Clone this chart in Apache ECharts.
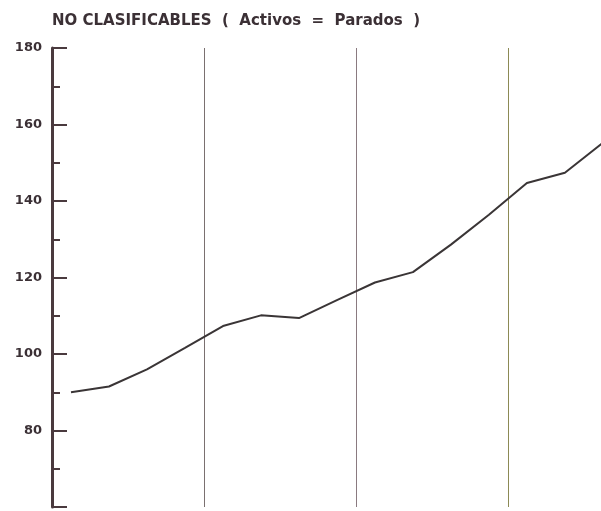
<!DOCTYPE html>
<html>
<head>
<meta charset="utf-8">
<script src="https://cdn.jsdelivr.net/npm/echarts@6/dist/echarts.min.js"></script>
<style>
  html, body { margin: 0; padding: 0; background: #fff; }
  #chart { width: 601px; height: 511px; }
</style>
</head>
<body>
<div id="chart"></div>
<script>
// quarters over four years (the last year is cut off at the right edge)
const years = ['1', '2', '3', '4'];
const quarters = ['I', 'II', 'III', 'IV'];
const categories = years.flatMap(y => quarters.map(q => q + '-' + y));

// index values (one per quarter)
const values = [90.0, 91.5, 96.0, 101.6, 107.3, 110.1, 109.4, 114.1,
                118.7, 121.4, 128.6, 136.4, 144.7, 147.4, 155.2];

const yTicks = [60, 80, 100, 120, 140, 160, 180];

// quarter i is drawn at the middle of its slot; year boundaries every 4 slots
const points = values.map((v, i) => [i + 0.5, v, categories[i]]);

const chart = echarts.init(document.getElementById('chart'), null, { renderer: 'canvas' });

chart.setOption({
  animation: false,
  title: {
    text: 'NO CLASIFICABLES  (  Activos  =  Parados  )',
    left: 47,
    top: 9,
    textStyle: { fontFamily: 'DejaVu Sans', fontWeight: 'bold', fontSize: 15, color: '#3b3035' },
  },
  grid: { left: 52, right: 0, top: 48, bottom: 4, containLabel: false },
  xAxis: {
    type: 'value',
    min: 0,
    max: 14.45,
    interval: 4,
    axisLine: { show: false },
    axisTick: { show: false },
    axisLabel: { show: false },
    splitLine: {
      show: true,
      lineStyle: { color: ['#ffffff', '#7a7070', '#8a7a80', '#8c8a55', '#ffffff'], width: 1 },
    },
  },
  yAxis: {
    type: 'value',
    min: yTicks[0],
    max: yTicks[yTicks.length - 1],
    interval: 20,
    axisLine: { show: true, lineStyle: { color: '#4a3a3e', width: 3 } },
    axisTick: { show: true, inside: true, length: 15, lineStyle: { color: '#4a3a3e', width: 2 } },
    minorTick: { show: true, splitNumber: 2, length: 8, lineStyle: { color: '#4a3a3e', width: 2 } },
    axisLabel: {
      margin: 10,
      fontFamily: 'DejaVu Sans',
      fontWeight: 'bold',
      fontSize: 13,
      color: '#3b3035',
      formatter: v => (v === yTicks[0] ? '' : String(v)),
    },
    splitLine: { show: false },
  },
  series: [{
    type: 'line',
    data: points,
    symbol: 'none',
    lineStyle: { color: '#3a3536', width: 2 },
    clip: false,
    z: 3,
  }],
});
</script>
</body>
</html>
